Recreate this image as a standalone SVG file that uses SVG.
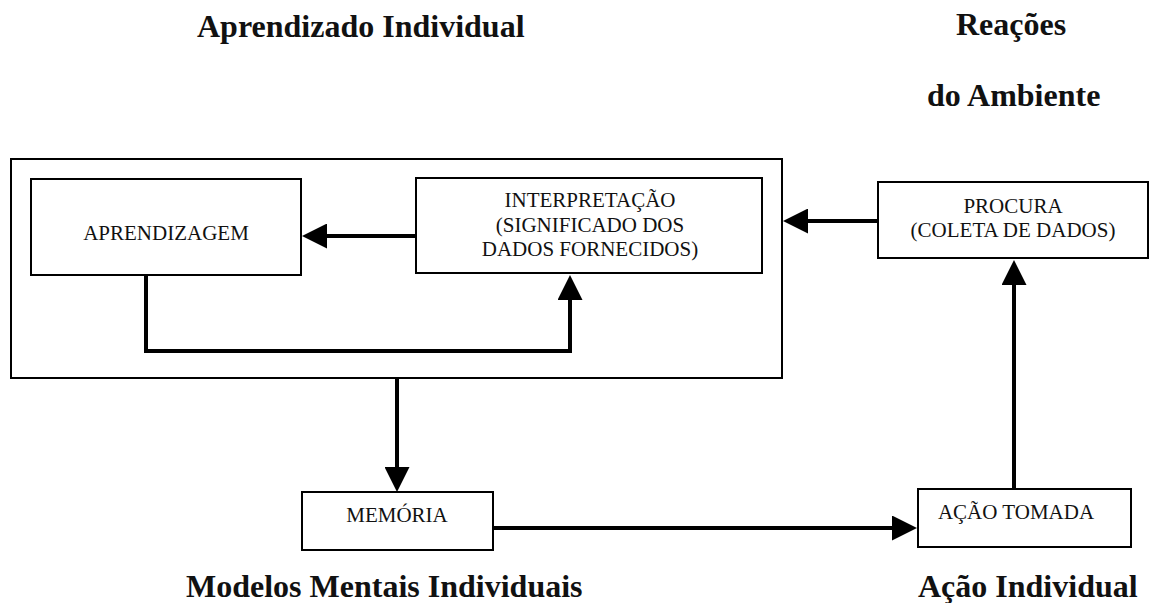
<svg xmlns="http://www.w3.org/2000/svg" width="1149" height="603" viewBox="0 0 1149 603">
<style>
.box{fill:#fff;stroke:#000;stroke-width:2}
.frame{fill:none;stroke:#000;stroke-width:2}
.lbl{font-family:"Liberation Serif","Times New Roman",serif;font-size:21px;fill:#111;text-anchor:middle}
.ttl{font-family:"Liberation Serif","Times New Roman",serif;font-size:32px;font-weight:bold;fill:#111}
.con{fill:none;stroke:#000;stroke-width:4;marker-end:url(#ah)}
</style>
<defs>
<marker id="ah" markerUnits="userSpaceOnUse" markerWidth="25" markerHeight="25" viewBox="0 0 25 25" refX="0" refY="12.5" orient="auto">
<path d="M0,0 L25,12.5 L0,25 z" fill="#000"/>
</marker>
</defs>
<rect width="1149" height="603" fill="#fff"/>
<g id="titles">
<text class="ttl" x="197" y="37">Aprendizado Individual</text>
<text class="ttl" x="956" y="35">Reações</text>
<text class="ttl" x="927" y="106">do Ambiente</text>
<text class="ttl" x="186" y="597">Modelos Mentais Individuais</text>
<text class="ttl" x="918" y="597">Ação Individual</text>
</g>
<g id="aprendizado-individual">
<rect class="frame" x="11" y="159" width="771" height="219"/>
</g>
<g id="aprendizagem">
<rect class="box" x="31" y="179" width="270" height="96"/>
<text class="lbl" x="166" y="240">APRENDIZAGEM</text>
</g>
<g id="interpretacao">
<rect class="box" x="416" y="178" width="346" height="95"/>
<text class="lbl" x="590" y="207">INTERPRETAÇÃO</text>
<text class="lbl" x="590" y="232">(SIGNIFICADO DOS</text>
<text class="lbl" x="590" y="256">DADOS FORNECIDOS)</text>
</g>
<g id="procura">
<rect class="box" x="878" y="182" width="270" height="76"/>
<text class="lbl" x="1013" y="213">PROCURA</text>
<text class="lbl" x="1013" y="237">(COLETA DE DADOS)</text>
</g>
<g id="memoria">
<rect class="box" x="302" y="492" width="191" height="58"/>
<text class="lbl" x="397" y="522">MEMÓRIA</text>
</g>
<g id="acao-tomada">
<rect class="box" x="918" y="489" width="213" height="58"/>
<text class="lbl" x="1016" y="519">AÇÃO TOMADA</text>
</g>
<g id="connectors">
<path class="con" d="M878 221 H808"/>
<path class="con" d="M416 236 H327"/>
<path class="con" d="M146 275 V351 H570 V300"/>
<path class="con" d="M397 378 V467"/>
<path class="con" d="M493 528 H892"/>
<path class="con" d="M1014 489 V285"/>
</g>
</svg>
